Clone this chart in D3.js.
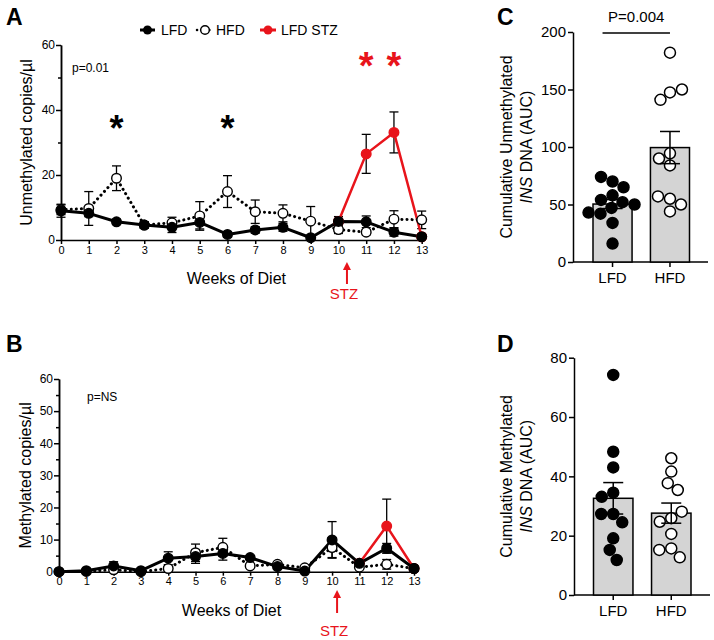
<!DOCTYPE html>
<html><head><meta charset="utf-8">
<script src="https://cdn.jsdelivr.net/npm/d3@7"></script>
<style>body{margin:0;background:#fff} text{font-family:"Liberation Sans",Arial,Helvetica,sans-serif}</style>
</head><body><svg id="c" width="714" height="640"></svg>
<script>
// ---------- DATA ----------
const weeks = [0,1,2,3,4,5,6,7,8,9,10,11,12,13];
const unmethLFD    = [9,8.2,5.6,4.6,3.9,5.4,1.7,3.1,3.9,0.7,5.7,5.6,2.4,1];
const unmethLFDerr = [2,1,0.8,1,1.6,2,0.8,1,1.2,0.6,1.5,1.8,1.2,0.5];
const unmethHFD    = [9.3,9.7,19,4.6,5.3,7.4,14.9,8.7,8.2,5.8,3.2,2.4,6.4,6.2];
const unmethHFDerr = [1.5,5.2,3.8,1,1.7,4.4,4.9,3.6,2.6,4.5,1.2,0.8,2.6,2.7];
const unmethSTZweeks = [10,11,12,13];
const unmethSTZ      = [5.7,26.5,33.1,1];
const unmethSTZerr   = [0,6,6.3,0];

const methLFD    = [0,0.3,1.8,0.3,4.2,4.7,5.7,4.4,1.6,0.2,9.9,2.6,7.3,1];
const methLFDerr = [0.2,0.3,1.3,0.3,2,2.1,2.1,0.6,0.5,0.2,5.7,0.6,1.5,0.4];
const methHFD    = [0,0.1,0.6,0,1,5.9,7.6,1.8,2.3,1.2,7.5,1.4,2.3,1];
const methHFDerr = [0,0.1,0.5,0,0.5,2.7,2.8,0.5,0.5,0.4,3.1,0.5,1.5,0.3];
const methSTZweeks = [11,12,13];
const methSTZ      = [2.6,14.2,1];
const methSTZerr   = [0,8.4,0];

const groups = ["LFD","HFD"];
const aucUnmethLFD = [70,74,65,58,54,52,50,47,42,43,34,16];
const aucUnmethHFD = [182,147.5,141,150,94.5,84,90,55,57,50,44];
const aucUnmethMean = [50.4,99.5];
const aucUnmethSem  = [3.9,14];
const aucMethLFD = [74.2,48.3,43,34.5,33.1,27.3,27.3,24.5,19.1,15.2,11.8];
const aucMethHFD = [46.1,41.6,37.7,35.4,25.9,24.7,28.1,20.6,15.7,15.2,12.7];
const aucMethMean = [32.6,27.6];
const aucMethSem  = [5.3,3.4];

// ---------- DRAW ----------
const svg = d3.select("#c");
const RED = "#e8141b";

function styleAxis(a, fs){
  a.selectAll("path,line").attr("stroke","#000").attr("stroke-width",1.5);
  a.selectAll("text").attr("fill","#000").style("font-size",fs+"px").style("font-family",'"Liberation Sans",Arial,sans-serif');
}

function linePanel(cfg){
  const x = d3.scaleLinear().domain([0,13]).range([cfg.x0,cfg.x1]);
  const y = d3.scaleLinear().domain([0,60]).range([cfg.y0,cfg.y1]);
  const g = svg.append("g");
  const ya = g.append("g").attr("transform",`translate(${cfg.x0},0)`)
    .call(d3.axisLeft(y).tickValues(cfg.majors).tickSize(5).tickSizeOuter(0).tickPadding(1));
  styleAxis(ya, 12);
  const ym = g.append("g").attr("transform",`translate(${cfg.x0},0)`)
    .call(d3.axisLeft(y).tickValues(cfg.minors).tickSize(3).tickSizeOuter(0).tickFormat(""));
  styleAxis(ym, 12);
  const xa = g.append("g").attr("transform",`translate(0,${cfg.y0})`)
    .call(d3.axisBottom(x).tickValues(weeks).tickSize(4).tickSizeOuter(0).tickPadding(2));
  styleAxis(xa, 11);

  const series = [
    {xs:cfg.stzW, v:cfg.stz, e:cfg.stzE, color:RED, dash:null, fill:RED, w:2.5},
    {xs:weeks, v:cfg.hfd, e:cfg.hfdE, color:"#000", dash:"0.1,5", fill:"#fff", w:3},
    {xs:weeks, v:cfg.lfd, e:cfg.lfdE, color:"#000", dash:null, fill:"#000", w:3}
  ];
  series.forEach(s=>{
    s.xs.forEach((wk,i)=>{
      if(!s.e[i]) return;
      const cx=x(wk), lo=y(s.v[i]-s.e[i]), hi=y(s.v[i]+s.e[i]);
      g.append("line").attr("x1",cx).attr("x2",cx).attr("y1",lo).attr("y2",hi).attr("stroke","#000").attr("stroke-width",1.3);
      [lo,hi].forEach(yy=>g.append("line").attr("x1",cx-4.5).attr("x2",cx+4.5).attr("y1",yy).attr("y2",yy).attr("stroke","#000").attr("stroke-width",1.3));
    });
  });
  const line = d3.line().x(d=>x(d[0])).y(d=>y(d[1]));
  series.forEach(s=>{
    const p = g.append("path").datum(s.xs.map((wk,i)=>[wk,s.v[i]])).attr("d",line)
      .attr("fill","none").attr("stroke",s.color).attr("stroke-width",s.w).attr("stroke-linecap","round").attr("stroke-linejoin","round");
    if(s.dash) p.attr("stroke-dasharray",s.dash);
  });
  series.forEach(s=>{
    s.xs.forEach((wk,i)=>{
      g.append("circle").attr("cx",x(wk)).attr("cy",y(s.v[i])).attr("r",4.8)
        .attr("fill",s.fill).attr("stroke",s.color===RED?RED:"#000").attr("stroke-width",1.4);
    });
  });
  g.append("text").attr("x",cfg.pX).attr("y",cfg.pY).text(cfg.pText).style("font-size","12px");
  g.append("text").attr("x",(cfg.x0+cfg.x1)/2-5).attr("y",cfg.xtY).attr("text-anchor","middle").text("Weeks of Diet").style("font-size","16px");
  g.append("text").attr("transform",`translate(${cfg.ytX},${(cfg.y0+cfg.y1)/2}) rotate(-90)`).attr("text-anchor","middle").text(cfg.ytitle).style("font-size","16px");
  const ax = x(10)+cfg.arrowOff;
  g.append("line").attr("x1",ax).attr("x2",ax).attr("y1",cfg.arrowBot).attr("y2",cfg.arrowTop+7).attr("stroke",RED).attr("stroke-width",2);
  g.append("path").attr("d",`M${ax-4},${cfg.arrowTop+8}L${ax},${cfg.arrowTop}L${ax+4},${cfg.arrowTop+8}Z`).attr("fill",RED);
  g.append("text").attr("x",ax-3).attr("y",cfg.stzY).attr("text-anchor","middle").attr("fill",RED).text("STZ").style("font-size","15px");
  return {x,y,g};
}

const A = linePanel({x0:61,x1:421.7,y0:240,y1:45,majors:[0,20,40,60],minors:[10,30,50],
  lfd:unmethLFD,lfdE:unmethLFDerr,hfd:unmethHFD,hfdE:unmethHFDerr,stzW:unmethSTZweeks,stz:unmethSTZ,stzE:unmethSTZerr,
  pText:"p=0.01",pX:72,pY:72,xtY:284,ytX:32,ytitle:"Unmethylated copies/µl",
  arrowOff:8.5,arrowTop:262,arrowBot:284,stzY:299});
const B = linePanel({x0:59,x1:414,y0:571.7,y1:379,majors:[0,10,20,30,40,50,60],minors:[5,15,25,35,45,55],
  lfd:methLFD,lfdE:methLFDerr,hfd:methHFD,hfdE:methHFDerr,stzW:methSTZweeks,stz:methSTZ,stzE:methSTZerr,
  pText:"p=NS",pX:87,pY:401,xtY:616,ytX:31,ytitle:"Methylated copies/µl",
  arrowOff:5,arrowTop:590,arrowBot:613,stzY:636});

// asterisks
[2,6].forEach(wk=>{
  svg.append("text").attr("x",A.x(wk)).attr("y",141).attr("text-anchor","middle").attr("fill","#000").text("*").style("font-size","36px").style("font-weight","bold");
});
[11,12].forEach(wk=>{
  svg.append("text").attr("x",A.x(wk)).attr("y",79).attr("text-anchor","middle").attr("fill",RED).text("*").style("font-size","38px").style("font-weight","bold");
});

// legend
const lg = svg.append("g");
lg.append("line").attr("x1",140).attr("x2",155).attr("y1",30).attr("y2",30).attr("stroke","#000").attr("stroke-width",3);
lg.append("circle").attr("cx",147.5).attr("cy",30).attr("r",4.5).attr("fill","#000");
lg.append("text").attr("x",161).attr("y",35).text("LFD").style("font-size","14px");
lg.append("line").attr("x1",197).attr("x2",212).attr("y1",30).attr("y2",30).attr("stroke","#000").attr("stroke-width",2.5).attr("stroke-dasharray","0.1,4").attr("stroke-linecap","round");
lg.append("circle").attr("cx",205).attr("cy",30).attr("r",4.3).attr("fill","#fff").attr("stroke","#000").attr("stroke-width",1.4);
lg.append("text").attr("x",216).attr("y",35).text("HFD").style("font-size","14px");
lg.append("line").attr("x1",260).attr("x2",276).attr("y1",30).attr("y2",30).attr("stroke",RED).attr("stroke-width",3);
lg.append("circle").attr("cx",268).attr("cy",30).attr("r",4.5).attr("fill",RED);
lg.append("text").attr("x",281).attr("y",35).text("LFD STZ").style("font-size","14px");

// panel labels
[["A",6,25],["B",6,352],["C",497,25],["D",497,352]].forEach(([t,xx,yy])=>{
  svg.append("text").attr("x",xx).attr("y",yy).text(t).style("font-size","23px").style("font-weight","bold");
});

function swarm(vals, y, r){
  const placed=[];
  return vals.map(v=>{
    const py=y(v);
    let best=0;
    for(let k=0;k<400;k++){
      const off = (k%2? -1:1)*Math.ceil(k/2)*0.5;
      if(placed.every(p=>Math.hypot(p[0]-off,p[1]-py)>=2*r+1)){best=off;break;}
    }
    placed.push([best,py]);
    return [best,py];
  });
}

function barPanel(cfg){
  const y = d3.scaleLinear().domain([0,cfg.max]).range([cfg.y0,cfg.y1]);
  const x = d3.scaleBand().domain(groups).range([cfg.b0,cfg.b1]).paddingInner(0.32).paddingOuter(0);
  const g = svg.append("g");
  const ya = g.append("g").attr("transform",`translate(${cfg.x0},0)`)
    .call(d3.axisLeft(y).tickValues(cfg.ticks).tickSize(5).tickSizeOuter(0).tickPadding(2));
  styleAxis(ya,15);
  g.append("line").attr("x1",cfg.x0).attr("x2",cfg.xEnd).attr("y1",cfg.y0).attr("y2",cfg.y0).attr("stroke","#000").attr("stroke-width",1.5);
  groups.forEach((grp,i)=>{
    const cx = x(grp)+x.bandwidth()/2;
    g.append("line").attr("x1",cx).attr("x2",cx).attr("y1",cfg.y0).attr("y2",cfg.y0+5).attr("stroke","#000").attr("stroke-width",1.5);
    g.append("text").attr("x",cx).attr("y",cfg.y0+21).attr("text-anchor","middle").text(grp).style("font-size","15px");
    g.append("rect").attr("x",x(grp)).attr("width",x.bandwidth()).attr("y",y(cfg.mean[i])).attr("height",cfg.y0-y(cfg.mean[i]))
      .attr("fill","#d4d4d4").attr("stroke","#000").attr("stroke-width",1.5);
  });
  cfg.pts.forEach((vals,i)=>{
    const cx = x(groups[i])+x.bandwidth()/2;
    swarm(vals,y,5.5).forEach(([dx,py])=>{
      g.append("circle").attr("cx",cx+dx).attr("cy",py).attr("r",5.5)
        .attr("fill",i===0?"#000":"#fff").attr("stroke","#000").attr("stroke-width",1.5);
    });
  });
  groups.forEach((grp,i)=>{
    const cx = x(grp)+x.bandwidth()/2;
    const lo=y(cfg.mean[i]-cfg.sem[i]), hi=y(cfg.mean[i]+cfg.sem[i]);
    g.append("line").attr("x1",cx).attr("x2",cx).attr("y1",lo).attr("y2",hi).attr("stroke","#000").attr("stroke-width",1.5);
    [lo,hi].forEach(yy=>g.append("line").attr("x1",cx-10).attr("x2",cx+10).attr("y1",yy).attr("y2",yy).attr("stroke","#000").attr("stroke-width",1.5));
  });
  const tg = g.append("text").attr("transform",`translate(${cfg.tx},${(cfg.y0+cfg.y1)/2}) rotate(-90)`).attr("text-anchor","middle").style("font-size","16px");
  tg.append("tspan").attr("x",0).attr("dy",0).text(cfg.title);
  const t2 = tg.append("tspan").attr("x",0).attr("dy",20);
  t2.append("tspan").style("font-style","italic").text("INS");
  t2.append("tspan").text(" DNA (AUC)");
  return {x,y,g};
}

const C = barPanel({x0:573,xEnd:708,b0:593,b1:689.5,y0:262,y1:32,max:200,ticks:[0,50,100,150,200],mean:aucUnmethMean,sem:aucUnmethSem,
  pts:[aucUnmethLFD,aucUnmethHFD],tx:512,title:"Cumulative Unmethylated"});
const D = barPanel({x0:574,xEnd:710,b0:593.5,b1:691,y0:595,y1:357.7,max:80,ticks:[0,20,40,60,80],mean:aucMethMean,sem:aucMethSem,
  pts:[aucMethLFD,aucMethHFD],tx:512,title:"Cumulative Methylated"});

const cl = C.x("LFD")+C.x.bandwidth()/2, ch = C.x("HFD")+C.x.bandwidth()/2;
svg.append("line").attr("x1",cl-10).attr("x2",ch).attr("y1",33).attr("y2",33).attr("stroke","#000").attr("stroke-width",1.5);
svg.append("text").attr("x",(cl+ch)/2-5).attr("y",22).attr("text-anchor","middle").text("P=0.004").style("font-size","15px");
</script></body></html>
